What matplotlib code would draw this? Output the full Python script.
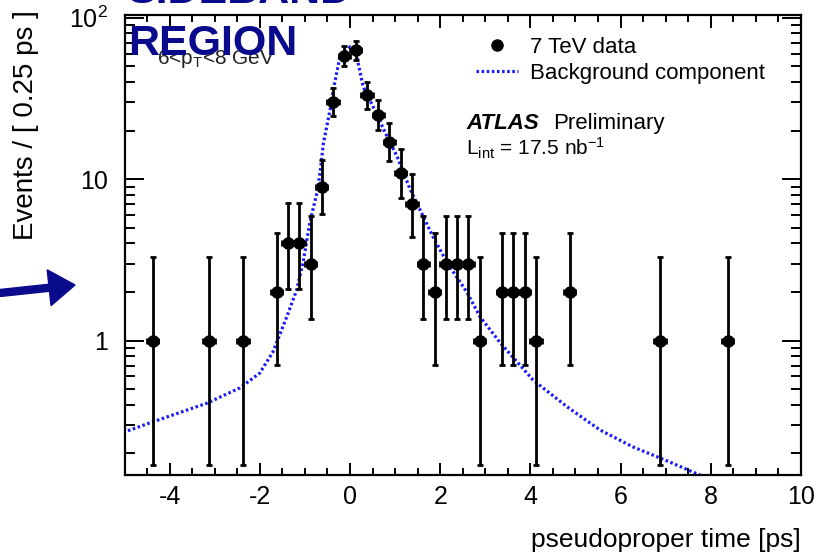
"""Pseudoproper time distribution in the sideband region (ATLAS style)."""

import matplotlib

matplotlib.use("Agg")
import matplotlib.pyplot as plt
import matplotlib.patches as mpatches
from matplotlib.lines import Line2D
from matplotlib.ticker import FixedLocator, FixedFormatter, MultipleLocator, LogLocator, NullFormatter

plt.rcParams["font.family"] = ["Liberation Sans", "DejaVu Sans"]
plt.rcParams["mathtext.default"] = "regular"
plt.rcParams["axes.unicode_minus"] = False

# data points: bin centre (ps), events per 0.25 ps, asymmetric errors
data_t = [-4.375, -3.125, -2.375, -1.625, -1.375, -1.125, -0.875, -0.625, -0.375, -0.125,
          0.125, 0.375, 0.625, 0.875, 1.125, 1.375, 1.625, 1.875, 2.125, 2.375, 2.625,
          2.875, 3.375, 3.625, 3.875, 4.125, 4.875, 6.875, 8.375]
data_n = [1, 1, 1, 2, 4, 4, 3, 9, 30, 58,
          63, 33, 25, 17, 11, 7, 3, 2, 3, 3, 3,
          1, 2, 2, 2, 1, 2, 1, 1]
err_lo = [0.83, 0.83, 0.83, 1.29, 1.91, 1.91, 1.63, 2.94, 5.4, 7.6,
          7.9, 5.7, 4.9, 4.1, 3.3, 2.6, 1.63, 1.29, 1.63, 1.63, 1.63,
          0.83, 1.29, 1.29, 1.29, 0.83, 1.29, 0.83, 0.83]
err_hi = [2.3, 2.3, 2.3, 2.64, 3.16, 3.16, 2.92, 4.1, 6.5, 8.6,
          9.0, 6.8, 6.0, 5.2, 4.4, 3.8, 2.92, 2.64, 2.92, 2.92, 2.92,
          2.3, 2.64, 2.64, 2.64, 2.3, 2.64, 2.3, 2.3]

# background component of the fit
bkg_t = [-5.03, -4.43, -3.17, -2.44, -2.0, -1.71, -1.40, -1.18, -1.04, -0.89, -0.73,
         -0.665, -0.59, -0.44, -0.37, -0.22, 0.0, 0.15, 0.29, 0.51, 0.82, 1.04,
         1.33, 1.84, 2.15, 2.59, 2.88, 3.33, 4.06, 4.81, 5.54, 6.27, 7.03, 7.76, 8.2]
bkg_y = [0.27, 0.31, 0.41, 0.51, 0.63, 0.85, 1.41, 2.07, 3.05, 5.4, 8.3,
         10.9, 16.7, 27, 35.8, 58, 66, 57.5, 37.5, 28.2, 18.4, 13.9,
         8.7, 4.4, 3.05, 2.0, 1.41, 0.97, 0.57, 0.39, 0.28, 0.22, 0.18, 0.147, 0.13]

navy = "#0a0a8c"
bkg_color = "#1a1aff"
bkg_style = (0, (0.8, 0.8))

fig = plt.figure(figsize=(8.17, 5.55), dpi=100)
ax = fig.add_axes([0.1524, 0.144, 0.828, 0.829])

ax.plot(bkg_t, bkg_y, color=bkg_color, lw=2.3, linestyle=bkg_style, zorder=2)
ax.errorbar(data_t, data_n, yerr=[err_lo, err_hi], xerr=0.125, fmt="o", color="black",
            ms=8, lw=2.0, capsize=2.5, capthick=2.0, zorder=3)

ax.set_yscale("log")
ax.set_xlim(-5, 10)
ax.set_ylim(0.147, 104)

ax.xaxis.set_major_locator(MultipleLocator(2))
ax.xaxis.set_minor_locator(MultipleLocator(0.5))
ax.yaxis.set_major_locator(FixedLocator([1, 10, 100]))
ax.yaxis.set_major_formatter(FixedFormatter(["1", "10", "$10^{2}$"]))
ax.yaxis.set_minor_locator(LogLocator(base=10, subs=range(2, 10)))
ax.yaxis.set_minor_formatter(NullFormatter())

ax.tick_params(axis="both", which="both", direction="in", top=True, right=True,
               width=1.4, labelsize=18)
ax.tick_params(axis="x", which="major", length=9, pad=7)
ax.tick_params(axis="x", which="minor", length=5)
ax.tick_params(axis="y", which="major", length=14, pad=12)
ax.tick_params(axis="y", which="minor", length=7)
for sp in ax.spines.values():
    sp.set_linewidth(1.6)

ax.set_xlabel("pseudoproper time [ps]", fontsize=19, ha="right")
ax.xaxis.set_label_coords(1.0, -0.115)
ax.set_ylabel("Events / [ 0.25 ps ]", fontsize=20, ha="right")
ax.yaxis.set_label_coords(-0.126, 1.01)

handles = [
    Line2D([], [], color="black", marker="o", ms=8, linestyle="none"),
    Line2D([], [], color=bkg_color, lw=2.3, linestyle=bkg_style),
]
ax.legend(handles, ["7 TeV data", "Background component"], loc="upper left",
          bbox_to_anchor=(0.5196, 0.952), frameon=False, fontsize=16,
          borderpad=0, borderaxespad=0, handlelength=1.9, handletextpad=0.55,
          labelspacing=0.2)

ax.text(0.505, 0.765, "ATLAS", transform=ax.transAxes, fontsize=16,
        fontweight="bold", fontstyle="italic", va="center")
ax.text(0.634, 0.765, "Preliminary", transform=ax.transAxes, fontsize=16, va="center")
ax.text(0.505, 0.71, r"L$_{int}$ = 17.5 nb$^{-1}$", transform=ax.transAxes,
        fontsize=15, va="center")

ax.text(0.048, 0.905, r"6<p$_{T}$<8 GeV", transform=ax.transAxes, fontsize=15,
        color="#222222", va="center", zorder=5)

fig.text(128 / 817, 1 - 3 / 555, "SIDEBAND", fontsize=31, fontweight="bold",
         color=navy, va="baseline", zorder=10)
fig.text(128 / 817, 1 - 55 / 555, "REGION", fontsize=31, fontweight="bold",
         color=navy, va="baseline", zorder=10)

arrow = mpatches.FancyArrow(0, 555 - 293, 75, 8, width=7, head_width=36, head_length=26,
                            length_includes_head=True, color=navy, transform=None)
fig.add_artist(arrow)

fig.savefig("out.png", dpi=100)
